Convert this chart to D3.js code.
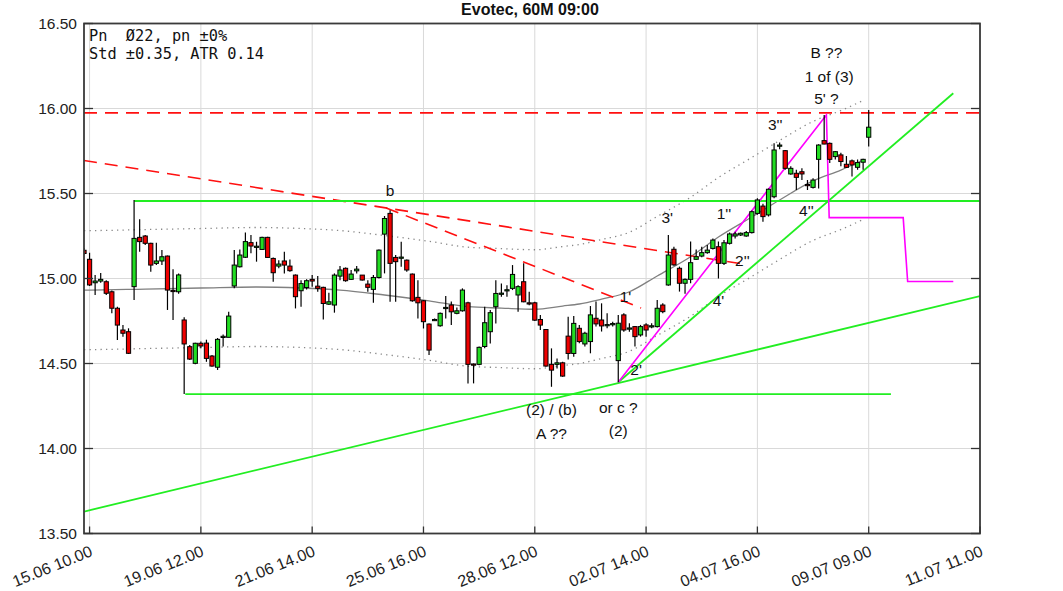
<!DOCTYPE html>
<html><head><meta charset="utf-8">
<script src="https://cdn.jsdelivr.net/npm/d3@7"></script>
<style>body{margin:0;background:#fff}svg{display:block}</style>
</head><body>
<svg id="c" width="1063" height="591"></svg>
<script>
// ---- data ----
const title = "Evotec, 60M 09:00";
const infoLines = ["Pn  \u00D822, pn \u00B10%", "Std \u00B10.35, ATR 0.14"];
const tickIdx = [0,20,40,60,80,100,120,140,160];
const tickLabels = ["15.06 10.00","19.06 12.00","21.06 14.00","25.06 16.00","28.06 12.00","02.07 14.00","04.07 16.00","09.07 09.00","11.07 11.00"];
const yTicks = [13.5,14.0,14.5,15.0,15.5,16.0,16.5];
// candles from index -1 to 140
const opens = [15.166,15.113,14.975,14.985,14.981,14.922,14.825,14.697,14.687,14.952,15.242,15.25,15.207,15.089,15.103,15.132,14.93,14.922,14.756,14.599,14.501,14.619,14.62,14.544,14.478,14.653,14.654,14.956,15.069,15.125,15.211,15.185,15.171,15.242,15.118,15.073,15.103,15.073,15.02,14.928,14.947,14.995,14.955,14.948,14.849,14.844,15.014,15.06,14.995,15.045,15.02,14.967,14.936,15.006,15.261,15.383,15.124,15.12,15.108,15.026,14.889,14.869,14.732,14.755,14.722,14.825,14.844,14.795,14.81,14.857,14.497,14.495,14.6,14.687,14.834,14.91,14.93,14.942,14.903,14.981,14.857,14.857,14.759,14.7,14.495,14.495,14.504,14.661,14.559,14.707,14.615,14.629,14.766,14.756,14.725,14.731,14.517,14.786,14.705,14.717,14.668,14.727,14.718,14.717,14.844,14.962,15.172,15.06,14.972,14.995,15.113,15.132,15.152,15.177,15.187,15.089,15.207,15.25,15.256,15.25,15.27,15.383,15.426,15.374,15.481,15.78,15.752,15.615,15.619,15.628,15.553,15.536,15.701,15.811,15.795,15.717,15.727,15.672,15.692,15.654,15.684,15.831];
const highs = [15.18,15.152,15.021,15.032,14.99,14.93,14.834,14.726,14.707,15.462,15.348,15.256,15.21,15.211,15.168,15.135,15.055,15.03,14.772,14.609,14.622,14.63,14.64,14.55,14.65,14.67,14.805,15.168,15.17,15.27,15.256,15.216,15.246,15.246,15.124,15.108,15.157,15.112,15.024,14.99,14.995,15.02,15.014,14.952,14.916,15.03,15.073,15.065,15.05,15.073,15.02,14.99,15.02,15.171,15.367,15.402,15.138,15.216,15.112,15.03,14.99,14.873,14.736,14.765,14.80,14.897,14.864,14.83,14.942,14.863,14.50,14.6,14.834,14.814,14.99,14.971,14.961,15.079,14.961,15.089,14.922,14.863,14.785,14.7,14.589,14.53,14.51,14.775,14.779,14.727,14.687,14.838,14.864,14.854,14.795,14.746,14.786,14.795,14.737,14.721,14.727,14.737,14.737,14.874,14.854,15.256,15.187,15.07,15.0,15.217,15.17,15.187,15.197,15.236,15.217,15.226,15.27,15.275,15.27,15.28,15.40,15.472,15.44,15.53,15.795,15.80,15.756,15.66,15.64,15.648,15.58,15.589,15.79,15.962,15.80,15.75,15.74,15.72,15.70,15.70,15.705,15.991];
const lows = [15.14,14.956,14.903,14.975,14.903,14.795,14.638,14.658,14.556,14.874,15.158,15.197,15.04,15.079,15.079,14.815,14.756,14.91,14.32,14.52,14.495,14.59,14.51,14.481,14.462,14.60,14.654,14.942,15.065,15.12,15.148,15.099,15.167,15.124,14.981,15.06,15.03,15.04,14.824,14.834,14.936,14.952,14.922,14.759,14.844,14.799,14.99,14.981,14.991,15.03,14.988,14.922,14.857,15.0,15.03,14.863,14.863,15.069,15.04,14.863,14.765,14.706,14.55,14.75,14.716,14.765,14.726,14.79,14.805,14.383,14.383,14.49,14.589,14.618,14.736,14.893,14.893,14.932,14.805,14.861,14.843,14.75,14.697,14.481,14.363,14.47,14.422,14.524,14.54,14.619,14.6,14.56,14.717,14.688,14.707,14.717,14.39,14.687,14.687,14.6,14.658,14.658,14.707,14.712,14.795,14.958,15.075,14.923,14.91,14.972,15.11,15.125,15.145,15.17,15.0,15.08,15.2,15.236,15.25,15.245,15.265,15.375,15.334,15.364,15.472,15.76,15.64,15.61,15.52,15.58,15.52,15.53,15.53,15.79,15.68,15.70,15.66,15.65,15.60,15.64,15.64,15.776];
const closes = [15.147,14.962,14.985,14.995,14.913,14.825,14.726,14.678,14.56,15.236,15.217,15.207,15.079,15.103,15.128,14.932,14.924,15.021,14.615,14.526,14.619,14.603,14.53,14.485,14.642,14.66,14.779,15.079,15.138,15.217,15.191,15.19,15.242,15.124,15.034,15.085,15.079,15.046,14.893,14.97,14.987,14.985,14.942,14.853,14.863,15.02,15.05,14.987,15.026,15.055,14.991,14.948,15.006,15.167,15.353,15.089,15.099,15.126,15.05,14.869,14.857,14.746,14.579,14.759,14.795,14.83,14.804,14.81,14.932,14.495,14.495,14.595,14.74,14.799,14.912,14.914,14.934,15.024,14.952,14.863,14.85,14.755,14.726,14.485,14.461,14.504,14.426,14.559,14.736,14.629,14.678,14.786,14.733,14.721,14.729,14.735,14.737,14.697,14.709,14.658,14.717,14.697,14.722,14.825,14.805,15.138,15.08,14.972,14.995,15.093,15.128,15.152,15.167,15.226,15.089,15.21,15.262,15.262,15.266,15.27,15.393,15.462,15.364,15.525,15.756,15.785,15.648,15.648,15.595,15.615,15.549,15.579,15.785,15.791,15.701,15.746,15.688,15.654,15.668,15.682,15.701,15.89];
// moving average (grey) and std bands, read at sample indices
const maIdx   = [-1,0,10,20,30,38,45,53,61,68,74,80,85,88,92,97,102,108,113,119,124,130,135,139];
const maVal   = [14.932,14.932,14.938,14.944,14.95,14.944,14.932,14.903,14.869,14.834,14.826,14.819,14.838,14.85,14.879,14.922,15.015,15.128,15.244,15.362,15.462,15.574,15.638,15.697];
const upperVal= [15.282,15.282,15.288,15.294,15.30,15.294,15.282,15.253,15.219,15.184,15.176,15.169,15.188,15.20,15.229,15.272,15.365,15.478,15.594,15.712,15.812,15.924,15.988,16.047];
const lowerVal= [14.582,14.582,14.588,14.594,14.60,14.594,14.582,14.553,14.519,14.484,14.476,14.469,14.488,14.50,14.529,14.572,14.665,14.778,14.894,15.012,15.112,15.224,15.288,15.347];
// trend lines: [[index, price], [index, price]]
const greenLines = [
  [[8.03,15.456],[160,15.456]],
  [[17.2,14.32],[144,14.32]],
  [[-1,13.629],[160,14.897]],
  [[95,14.39],[155.2,16.09]]
];
const redDashLines = [
  [[-1,15.694],[117.5,15.085]],
  [[53.3,15.415],[99.1,14.826]],
  [[-1,15.974],[160,15.974]]
];
const magentaPath = [[95,14.39],[132.4,15.962],[132.9,15.358],[146.2,15.358],[147,14.982],[155.2,14.982]];
const annotations = [
  [54.0,15.52,"b"],[103.8,15.362,"3'"],[114.0,15.385,"1''"],[117.3,15.109,"2''"],
  [113.0,14.874,"4'"],[96.3,14.897,"1'"],[98.2,14.468,"2'"],[123.2,15.909,"3''"],
  [128.8,15.403,"4''"],[132.4,16.332,"B ??"],[132.9,16.191,"1 of (3)"],[132.4,16.062,"5' ?"],
  [83.0,14.232,"(2) / (b)"],[83.0,14.091,"A ??"],[95.0,14.244,"or c ?"],[95.0,14.109,"(2)"]
];

// ---- drawing ----
const svg = d3.select("#c");
const L=84, R=980, T=23.5, B=533.5;
const x = d3.scaleLinear().domain([-1,160]).range([L,R]);
const y = d3.scaleLinear().domain([13.5,16.5]).range([B,T]);
const font = "'Liberation Sans', Arial, sans-serif";

svg.append("defs").append("clipPath").attr("id","clip")
  .append("rect").attr("x",L).attr("y",T).attr("width",R-L).attr("height",B-T);

// grid
const grid = svg.append("g");
grid.selectAll(".hg").data(yTicks).join("line")
  .attr("x1",L).attr("x2",R).attr("y1",d=>y(d)).attr("y2",d=>y(d))
  .attr("stroke","#d9d9d9").attr("stroke-width",1);
grid.selectAll(".vg").data(tickIdx).join("line")
  .attr("x1",d=>x(d)).attr("x2",d=>x(d)).attr("y1",T).attr("y2",B)
  .attr("stroke","#d9d9d9").attr("stroke-width",1);

const plot = svg.append("g").attr("clip-path","url(#clip)");

// bands & MA
const maData = maIdx.map((d,i)=>({i:d, m:maVal[i], u:upperVal[i], l:lowerVal[i]}));
const lineGen = k => d3.line().x(d=>x(d.i)).y(d=>y(d[k])).curve(d3.curveMonotoneX);
plot.append("path").datum(maData).attr("d",lineGen("u")).attr("fill","none")
  .attr("stroke","#888").attr("stroke-width",1.3).attr("stroke-dasharray","1.3,4.2");
plot.append("path").datum(maData).attr("d",lineGen("l")).attr("fill","none")
  .attr("stroke","#888").attr("stroke-width",1.3).attr("stroke-dasharray","1.3,4.2");
plot.append("path").datum(maData).attr("d",lineGen("m")).attr("fill","none")
  .attr("stroke","#808080").attr("stroke-width",1.3);

// trend lines
const seg = d3.line().x(d=>x(d[0])).y(d=>y(d[1]));
plot.selectAll(".rl").data(redDashLines).join("path").attr("d",seg).attr("fill","none")
  .attr("stroke","#ff1010").attr("stroke-width",1.6).attr("stroke-dasharray","13,8");
plot.selectAll(".gl").data(greenLines).join("path").attr("d",seg).attr("fill","none")
  .attr("stroke","#22ee22").attr("stroke-width",1.8);
plot.append("path").datum(magentaPath).attr("d",seg).attr("fill","none")
  .attr("stroke","#ff00ff").attr("stroke-width",1.6);

// candles
const candles = opens.map((o,k)=>({i:k-1,o:o,h:highs[k],l:lows[k],c:closes[k]}));
const cg = plot.append("g");
cg.selectAll(".wick").data(candles).join("line")
  .attr("x1",d=>x(d.i)).attr("x2",d=>x(d.i)).attr("y1",d=>y(d.h)).attr("y2",d=>y(d.l))
  .attr("stroke","#000").attr("stroke-width",1.2);
const bw = 4.2;
cg.selectAll(".body").data(candles).join("rect")
  .attr("x",d=>x(d.i)-bw/2).attr("width",bw)
  .attr("y",d=>y(Math.max(d.o,d.c)))
  .attr("height",d=>Math.max(1.2,Math.abs(y(d.o)-y(d.c))))
  .attr("fill",d=>d.c>=d.o?"#22dd22":"#ee0000")
  .attr("stroke","#000").attr("stroke-width",1);

// annotations
svg.append("g").selectAll("text").data(annotations).join("text")
  .attr("x",d=>x(d[0])).attr("y",d=>y(d[1])).attr("dy","0.36em")
  .attr("text-anchor","middle").attr("font-family",font).attr("font-size",15.5)
  .attr("fill","#111").text(d=>d[2]);

// frame
svg.append("rect").attr("x",L).attr("y",T).attr("width",R-L).attr("height",B-T)
  .attr("fill","none").attr("stroke","#3a3a3a").attr("stroke-width",1.8);

// y ticks
const yt = svg.append("g");
yt.selectAll(".tl").data(yTicks).join("line").attr("x1",L).attr("x2",L+9)
  .attr("y1",d=>y(d)).attr("y2",d=>y(d)).attr("stroke","#333").attr("stroke-width",1.3);
yt.selectAll(".tr").data(yTicks).join("line").attr("x1",R-9).attr("x2",R)
  .attr("y1",d=>y(d)).attr("y2",d=>y(d)).attr("stroke","#333").attr("stroke-width",1.3);
yt.selectAll("text").data(yTicks).join("text").attr("x",L-7).attr("y",d=>y(d)).attr("dy","0.35em")
  .attr("text-anchor","end").attr("font-family",font).attr("font-size",15.5).attr("fill","#222")
  .text(d=>d3.format(".2f")(d));

// x ticks
const xt = svg.append("g");
xt.selectAll("line").data(tickIdx).join("line").attr("x1",d=>x(d)).attr("x2",d=>x(d))
  .attr("y1",B).attr("y2",B-7).attr("stroke","#333").attr("stroke-width",1.3);
xt.selectAll("text").data(tickIdx).join("text")
  .attr("transform",d=>`translate(${x(d)+4},${B+22}) rotate(-22)`)
  .attr("text-anchor","end").attr("font-family",font).attr("font-size",16).attr("fill","#222")
  .text((d,i)=>tickLabels[i]);

// title
svg.append("text").attr("x",530).attr("y",15).attr("text-anchor","middle")
  .attr("font-family",font).attr("font-size",16).attr("font-weight","bold").attr("fill","#111")
  .text(title);

// info
svg.append("g").selectAll("text").data(infoLines).join("text")
  .attr("x",L+5).attr("y",(d,i)=>T+17+i*18)
  .attr("font-family","'DejaVu Sans Mono', monospace").attr("font-size",15.3).attr("fill","#111")
  .attr("xml:space","preserve").style("white-space","pre").text(d=>d);
</script>
</body></html>
